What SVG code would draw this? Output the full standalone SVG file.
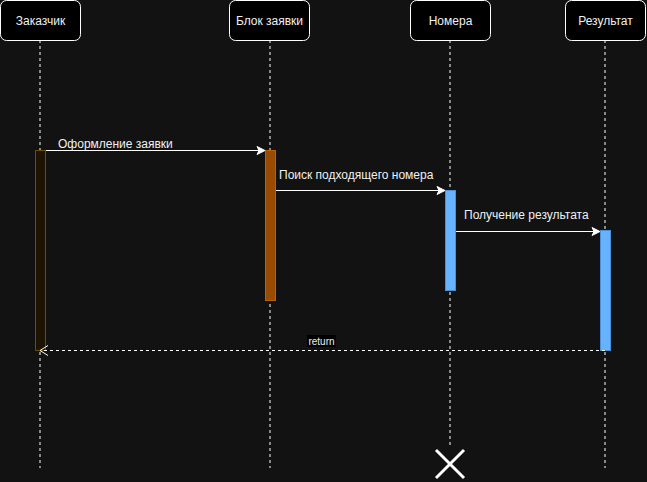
<svg xmlns="http://www.w3.org/2000/svg" width="647" height="482" viewBox="0 0 647 482">
<defs>
<style>
.hdr{fill:#000;stroke:#fff;stroke-width:1}
.t{font-family:"Liberation Sans",Arial,sans-serif;font-size:12px;fill:#f0f0f0}
.life{stroke:#fff;stroke-width:1;stroke-dasharray:3 3;fill:none}
.msg{stroke:#fff;stroke-width:1;fill:none}
</style>
<marker id="arr" markerWidth="10" markerHeight="10" refX="9" refY="5" orient="auto" markerUnits="userSpaceOnUse">
<path d="M1,1 L9,5 L1,9 L3,5 Z" fill="#fff" stroke="#fff" stroke-width="1"/>
</marker>
<marker id="open" markerWidth="10" markerHeight="12" refX="9" refY="6" orient="auto" markerUnits="userSpaceOnUse">
<path d="M1,1 L9,6 L1,11" fill="none" stroke="#fff" stroke-width="1"/>
</marker>
</defs>
<rect width="647" height="482" fill="#121212"/>
<g id="lifelines">
<line class="life" x1="40" y1="40" x2="40" y2="468"/>
<line class="life" x1="270" y1="40" x2="270" y2="468"/>
<line class="life" x1="450" y1="40" x2="450" y2="448"/>
<line class="life" x1="605" y1="40" x2="605" y2="468"/>
</g>
<g id="customer">
<rect class="hdr" x="0.5" y="0.5" width="80" height="40" rx="6"/>
<text class="t" x="40.5" y="25" text-anchor="middle">Заказчик</text>
</g>
<g id="order-block">
<rect class="hdr" x="229.5" y="0.5" width="80" height="40" rx="6"/>
<text class="t" x="269.5" y="25" text-anchor="middle">Блок заявки</text>
</g>
<g id="rooms">
<rect class="hdr" x="410.5" y="0.5" width="80" height="40" rx="6"/>
<text class="t" x="450.5" y="25" text-anchor="middle">Номера</text>
</g>
<g id="result">
<rect class="hdr" x="565.5" y="0.5" width="80" height="40" rx="6"/>
<text class="t" x="605.5" y="25" text-anchor="middle">Результат</text>
</g>
<g id="activations">
<rect x="35.5" y="150.5" width="10" height="200" fill="#1e1200" stroke="#6e4c00"/>
<rect x="265.5" y="150.5" width="10" height="150" fill="#994c00" stroke="#b86200"/>
<rect x="445.5" y="190.5" width="10" height="100" fill="#66b2ff" stroke="#4a8fd8"/>
<rect x="600.5" y="230.5" width="10" height="120" fill="#66b2ff" stroke="#4a8fd8"/>
</g>
<g id="connectors">
<line class="msg" x1="46" y1="150.5" x2="265" y2="150.5" marker-end="url(#arr)"/>
<text class="t" x="58" y="148">Оформление заявки</text>
<line class="msg" x1="276" y1="190.5" x2="445" y2="190.5" marker-end="url(#arr)"/>
<text class="t" x="279" y="179">Поиск подходящего номера</text>
<line class="msg" x1="456" y1="231.5" x2="600" y2="231.5" marker-end="url(#arr)"/>
<text class="t" x="464" y="219">Получение результата</text>
<line class="msg" x1="605" y1="350.5" x2="40" y2="350.5" stroke-dasharray="3 3" marker-end="url(#open)"/>
<rect x="307" y="335" width="29" height="12" fill="#000"/>
<text x="321.5" y="345" text-anchor="middle" font-family="'Liberation Sans',Arial,sans-serif" font-size="10" fill="#f0f0f0">return</text>
</g>
<g id="destroy">
<path d="M436,450 L464,478 M464,450 L436,478" stroke="#fff" stroke-width="3" fill="none"/>
</g>
</svg>
